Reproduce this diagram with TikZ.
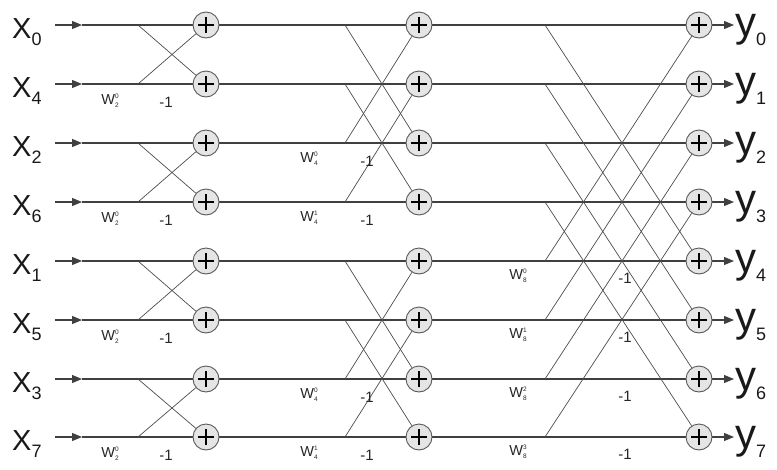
\documentclass[tikz,border=0pt]{standalone}
\usepackage{fontspec}
\setmainfont{Liberation Sans}
\usetikzlibrary{arrows.meta,backgrounds}
\newcommand\Wtw[2]{W\rlap{\raisebox{6pt}{\fontsize{6.5}{6.5}\selectfont #1}}\raisebox{-3pt}{\fontsize{6.5}{6.5}\selectfont #2}}
\begin{document}
\begin{tikzpicture}[x=1pt,y=-1pt,
 adder/.style={circle,draw=black!65,fill=black!10,line width=0.9pt,minimum size=26pt,inner sep=0pt,
   path picture={\draw[line width=2.8pt,black]
     ([xshift=-8pt]path picture bounding box.center) -- ([xshift=8pt]path picture bounding box.center)
     ([yshift=-8pt]path picture bounding box.center) -- ([yshift=8pt]path picture bounding box.center);}},
 hline/.style={draw=black!75,line width=1.1pt},
 dline/.style={draw=black!70,line width=0.7pt},
 arr/.style={hline,-{Triangle[length=10pt,width=8pt]}},
 wlab/.style={font=\fontsize{14.5}{14.5}\selectfont,inner sep=0pt,text=black!85},
 mlab/.style={font=\fontsize{15}{15}\selectfont,inner sep=0pt,text=black!85},
 xlab/.style={anchor=base west,inner sep=0pt,font=\fontsize{29}{29}\selectfont,text=black!90},
 ylab/.style={anchor=base west,inner sep=0pt,font=\fontsize{42}{42}\selectfont,text=black!90},
]
\useasboundingbox (0,0) rectangle (777,469);
\foreach \r/\yy/\xi in {0/25/0,1/84/4,2/143/2,3/202/6,4/261/1,5/320/5,6/379/3,7/437/7}{
  \coordinate (in\r) at (55,\yy);
  \coordinate (ia\r) at (82,\yy);
  \node[adder] (a\r) at (206,\yy) {};
  \node[adder] (b\r) at (419,\yy) {};
  \node[adder] (c\r) at (699,\yy) {};
  \coordinate (s\r) at (138,\yy);
  \coordinate (t\r) at (345,\yy);
  \coordinate (u\r) at (545,\yy);
  \coordinate (oa\r) at (734,\yy);
  \node[xlab] (xl\r) at (12,\yy+13) {X\raisebox{-7pt}{\fontsize{18}{18}\selectfont \xi}};
  \node[ylab] (yl\r) at (735,\yy+11) {y\raisebox{-9pt}{\fontsize{18}{18}\selectfont \r}};
}
% stage 1 labels
\foreach \r/\yy in {1/84,3/202,5/320,7/437}{
  \node[wlab] (w1l\r) at (110,\yy+17) {\Wtw{0}{2}};
  \node[mlab] (m1l\r) at (166,\yy+18) {-1};
}
% stage 2 labels
\foreach \r/\yy/\k in {2/143/0,3/202/1,6/379/0,7/437/1}{
  \node[wlab] (w2l\r) at (309,\yy+16) {\Wtw{\k}{4}};
  \node[mlab] (m2l\r) at (367,\yy+18) {-1};
}
% stage 3 labels
\foreach \r/\yy/\k in {4/261/0,5/320/1,6/379/2,7/437/3}{
  \node[wlab] (w3l\r) at (518,\yy+15) {\Wtw{\k}{8}};
  \node[mlab] (m3l\r) at (625,\yy+17) {-1};
}
\begin{pgfonlayer}{background}
\foreach \r in {0,...,7}{
  \draw[arr] (in\r) -- (ia\r);
  \draw[hline] (ia\r) -- (a\r) -- (b\r) -- (c\r);
  \draw[arr] (c\r) -- (oa\r);
}
\foreach \p/\q in {0/1,2/3,4/5,6/7}{
  \draw[dline] (s\p) -- (a\q);
  \draw[dline] (s\q) -- (a\p);
}
\foreach \p/\q in {0/2,1/3,4/6,5/7}{
  \draw[dline] (t\p) -- (b\q);
  \draw[dline] (t\q) -- (b\p);
}
\foreach \p/\q in {0/4,1/5,2/6,3/7}{
  \draw[dline] (u\p) -- (c\q);
  \draw[dline] (u\q) -- (c\p);
}
\end{pgfonlayer}
\end{tikzpicture}
\end{document}
